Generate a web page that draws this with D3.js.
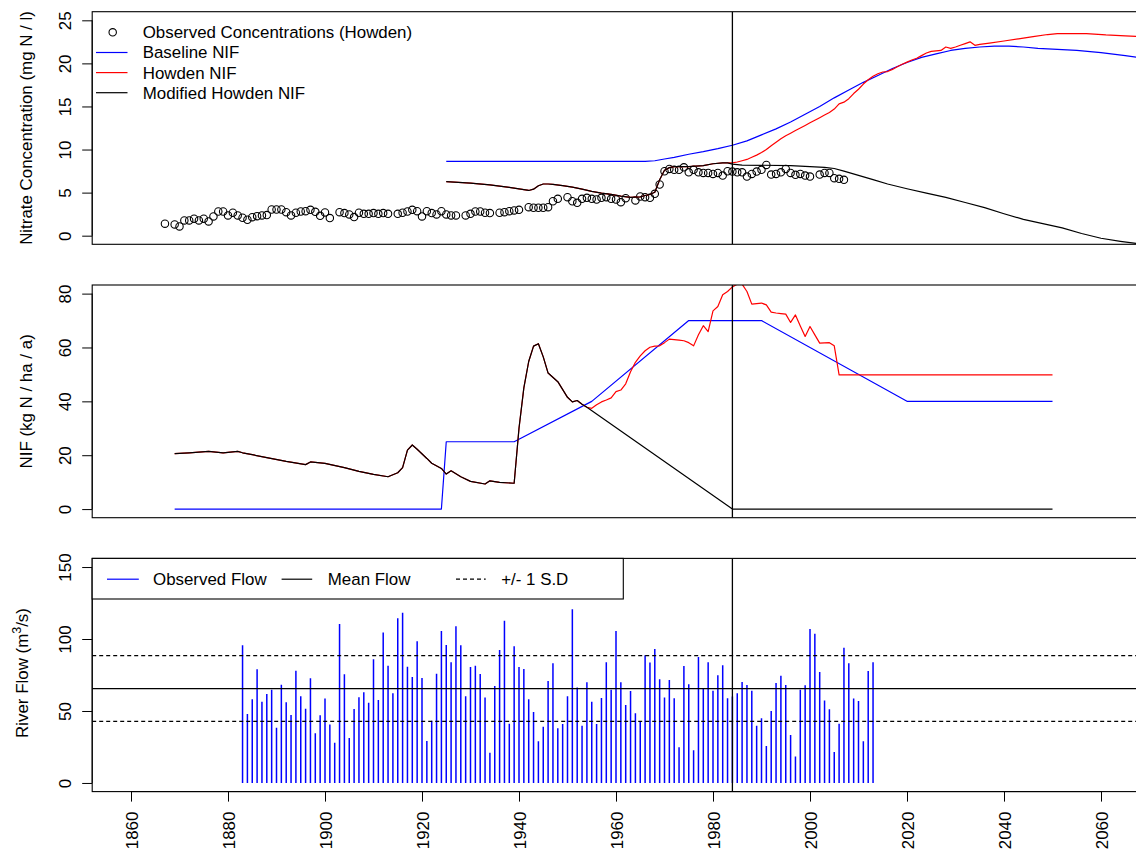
<!DOCTYPE html>
<html><head><meta charset="utf-8">
<script src="https://cdn.jsdelivr.net/npm/d3@7"></script>
<style>
html,body{margin:0;padding:0;background:#fff;}
text{font-family:"Liberation Sans",Arial,Helvetica,sans-serif;font-size:16.9px;fill:#000;}
</style></head>
<body><svg id="c" width="1136" height="850"></svg>
<script>
// ---------- DATA ----------
const xTicks = [1860, 1880, 1900, 1920, 1940, 1960, 1980, 2000, 2020, 2040, 2060];
const concTicks = [0, 5, 10, 15, 20, 25];
const nifTicks = [0, 20, 40, 60, 80];
const flowTicks = [0, 50, 100, 150];
const markerYear = 1984;

// Panel 1: observed nitrate concentrations (Howden)
const obsYears = [1867,1869,1870,1871,1872,1873,1874,1875,1876,1877,1878,1879,1880,1881,1882,1883,1884,1885,1886,1887,1888,1889,1890,1891,1892,1893,1894,1895,1896,1897,1898,1899,1900,1901,1903,1904,1905,1906,1907,1908,1909,1910,1911,1912,1913,1915,1916,1917,1918,1919,1920,1921,1922,1923,1924,1925,1926,1927,1929,1930,1931,1932,1933,1934,1936,1937,1938,1939,1940,1942,1943,1944,1945,1946,1947,1948,1950,1951,1952,1953,1954,1955,1956,1957,1958,1959,1960,1961,1962,1964,1965,1966,1967,1968,1969,1970,1971,1972,1973,1974,1975,1976,1977,1978,1979,1980,1981,1982,1983,1984,1985,1986,1987,1988,1989,1990,1991,1992,1993,1994,1995,1996,1997,1998,1999,2000,2002,2003,2004,2005,2006,2007];
const obsConc = [1.39,1.31,1.08,1.77,1.77,1.97,1.77,1.97,1.66,2.23,2.81,2.81,2.35,2.66,2.35,2.08,1.85,2.15,2.27,2.35,2.39,3.04,3.04,3.04,2.73,2.35,2.66,2.81,2.85,3.0,2.77,2.31,2.7,2.04,2.73,2.62,2.47,2.16,2.66,2.54,2.54,2.62,2.54,2.62,2.54,2.54,2.66,2.81,3.0,2.85,2.23,2.85,2.62,2.47,2.85,2.47,2.35,2.35,2.35,2.54,2.81,2.81,2.66,2.62,2.66,2.73,2.85,2.93,3.0,3.31,3.24,3.24,3.24,3.31,4.0,4.28,4.47,4.0,3.82,4.28,4.4,4.28,4.2,4.4,4.47,4.28,4.2,3.89,4.35,4.09,4.55,4.47,4.4,4.86,5.94,7.48,7.75,7.64,7.64,7.94,7.36,7.64,7.36,7.29,7.29,7.17,7.29,6.98,7.48,7.44,7.36,7.36,6.86,7.17,7.44,7.64,8.21,7.09,7.17,7.36,7.75,7.29,7.06,7.17,6.98,6.86,7.09,7.29,7.29,6.67,6.6,6.48];

// Panel 1: modelled concentrations
const baseConcYears = [1925,1966,1968,1970,1972,1975,1978,1981,1984,1987,1990,1993,1996,1999,2002,2005,2008,2011,2014,2017,2020,2023,2026,2029,2032,2035,2038,2041,2044,2047,2050,2055,2060,2065,2068,2072];
const baseConc = [8.63,8.63,8.7,8.9,9.1,9.45,9.75,10.1,10.5,11.0,11.7,12.4,13.2,14.1,15.0,16.0,16.9,17.8,18.6,19.4,20.1,20.7,21.1,21.5,21.75,21.9,22.0,22.0,21.9,21.75,21.65,21.5,21.25,20.9,20.65,20.4];
// shared part of Howden and Modified Howden concentration curves (1925-1983)
const sharedConcYears = [1925,1930,1934,1938,1941,1942,1943,1944,1945,1946,1947,1949,1951,1953,1955,1957,1959,1961,1963,1965,1966,1967,1968,1969,1970,1971,1972,1975,1978,1980,1982,1983];
const sharedConc = [6.28,6.1,5.9,5.6,5.35,5.25,5.4,5.8,6.0,6.0,5.95,5.8,5.63,5.4,5.15,4.95,4.8,4.6,4.45,4.5,4.66,4.8,5.05,6.5,7.6,7.9,8.02,8.02,8.14,8.35,8.45,8.45];
const howdenConcYears = [1984,1985,1986,1987,1988,1989,1990,1991,1992,1993,1994,1995,1996,1997,1998,1999,2000,2001,2002,2003,2004,2005,2006,2007,2008,2009,2010,2011,2012,2013,2014,2015,2016,2017,2018,2019,2020,2021,2022,2023,2024,2025,2026,2027,2028,2029,2030,2031,2032,2033,2034,2035,2037,2040,2043,2046,2049,2051,2057,2061,2065,2068,2072];
const howdenConc = [8.45,8.55,8.7,8.85,9.1,9.35,9.65,10.0,10.45,10.85,11.25,11.6,11.9,12.2,12.5,12.8,13.1,13.4,13.7,14.0,14.3,14.7,15.3,15.5,15.9,16.5,17.0,17.6,18.1,18.5,18.8,19.0,19.05,19.3,19.6,19.9,20.15,20.4,20.6,20.9,21.2,21.4,21.45,21.5,21.9,21.75,21.9,22.1,22.3,22.5,22.1,22.2,22.35,22.6,22.85,23.1,23.35,23.45,23.45,23.3,23.2,23.1,23.0];
const modConcYears = [1984,1986,1996,2003,2005,2007,2010,2013,2016,2020,2024,2028,2032,2036,2040,2044,2048,2052,2056,2060,2064,2068,2072];
const modConc = [8.3,8.2,8.14,7.94,7.8,7.5,7.0,6.5,6.0,5.45,4.95,4.45,3.85,3.25,2.55,1.9,1.4,0.9,0.25,-0.3,-0.65,-0.95,-1.3];

// Panel 2: nitrogen input function (kg N / ha / a)
const baseNifYears = [1869,1924,1925,1939,1955,1975,1990,2020,2050];
const baseNif = [0,0,25,25,40,70,70,40,40];
const sharedNifYears = [1869,1872,1876,1879,1882,1883,1885,1888,1892,1896,1897,1900,1904,1907,1910,1913,1915,1916,1917,1918,1919,1921,1922,1924,1925,1926,1928,1930,1933,1934,1936,1939,1940,1941,1942,1943,1944,1945,1946,1948,1950,1951,1952,1953,1954];
const sharedNif = [20.6,20.9,21.4,20.9,21.4,20.9,20.2,19.1,17.7,16.5,17.5,17.0,15.4,14.0,12.9,12.0,13.5,15.4,21.9,23.8,22.2,18.8,17.0,15.1,13.0,14.2,12.0,10.3,9.3,10.5,9.9,9.6,30.0,45.0,54.8,60.5,61.4,56.5,50.5,47.3,41.5,39.8,40.3,38.9,37.8];
const howdenNifYears = [1955,1956,1957,1958,1959,1960,1961,1962,1963,1964,1965,1966,1967,1968,1969,1970,1971,1972,1973,1974,1975,1976,1977,1978,1979,1980,1981,1982,1983,1984,1985,1986,1987,1988,1989,1990,1991,1992,1993,1994,1995,1996,1997,1998,1999,2000,2001,2002,2003,2004,2005,2006,2050];
const howdenNif = [37.4,38.7,39.8,40.5,41.3,43.6,44.2,46.5,51.0,54.5,56.9,58.8,60.1,60.5,60.6,61.8,63.1,62.9,62.7,62.5,61.8,60.6,64.7,68.1,65.9,73.6,75.2,79.6,80.8,82.5,83.5,83.5,80.8,76.1,76.3,76.5,75.8,73.1,72.8,72.6,72.4,69.3,72.1,68.0,64.1,67.8,64.7,61.6,61.7,61.8,60.6,49.8,49.8];
const modNifYears = [1984,2050];
const modNif = [0,0];

// Panel 3: river flow (m3/s)
const flowYears = d3.range(1883, 2014);
const flow = [95.6,47.9,58.1,79,56.5,61.8,64.8,38.4,68.3,56,47.2,78,60.2,51.6,72.7,34.5,47,58.6,40.7,28,110.4,75.5,31.3,51.4,59.5,63,55.8,85.9,57.6,104.6,81.5,62.3,114.4,118.3,80.8,73.6,98.4,72.9,29.2,43.3,75.9,105.6,95.8,83.8,108.8,95.6,60.2,80.6,81.5,75.7,59.3,21,67.4,92.4,112.7,41.2,94.9,80.6,79.2,58.1,49.3,29,39.1,70.8,83.1,38,41,60.2,120.6,66.4,39.8,69.9,56.5,41,59,83.8,64.8,105.6,69.9,54.2,63.9,48.4,42.6,88.7,83.6,93.1,72,59.3,71.5,58.8,24.8,81.3,68.5,22.7,87.5,65.3,83.8,64.1,74.8,81.7,58.8,60,62.3,70.1,68,64.1,39.8,44.9,25.7,50,69.4,74.5,68,33.3,18.3,64.8,67.8,106.9,103.7,77.1,57.2,51.2,21.5,41.2,94,83.1,58.6,56.9,29,77.8,83.8];
const meanFlow = 65.6;
const sdFlow = 22.8;

const legendTop = ["Observed Concentrations (Howden)", "Baseline NIF", "Howden NIF", "Modified Howden NIF"];
const legendBottom = ["Observed Flow", "Mean Flow", "+/- 1 S.D"];

// ---------- DRAWING ----------
const svg = d3.select("#c");
const BLUE = "#0000ff", RED = "#ff0000";
const FS = "16.9px";
const x = d3.scaleLinear().domain([1852, 2068]).range([92.2, 1139.8]);
const panels = [
  {top: 11.7, bottom: 244.3, dom: [-1, 26], ticks: concTicks, label: "Nitrate Concentration (mg N / l)"},
  {top: 285.0, bottom: 517.7, dom: [-3.2, 83.2], ticks: nifTicks, label: "NIF (kg N / ha / a)"},
  {top: 558.4, bottom: 791.6, dom: [-6, 156], ticks: flowTicks, label: null}
];
panels.forEach((p, i) => {
  p.y = d3.scaleLinear().domain(p.dom).range([p.bottom, p.top]);
  svg.append("clipPath").attr("id", "clip" + i).append("rect")
    .attr("x", x.range()[0]).attr("y", p.top)
    .attr("width", x.range()[1] - x.range()[0]).attr("height", p.bottom - p.top);
  p.g = svg.append("g").attr("clip-path", `url(#clip${i})`);
});

function yAxis(p) {
  const ax = d3.axisLeft(p.y).tickValues(p.ticks).tickSize(10).tickSizeOuter(0);
  const g = svg.append("g").attr("transform", `translate(${x.range()[0]},0)`).call(ax);
  g.select(".domain").remove();
  g.selectAll(".tick line").attr("stroke", "#000").attr("stroke-width", 1);
  g.selectAll(".tick text").attr("x", null).attr("dy", null)
    .attr("text-anchor", "middle").attr("transform", "translate(-21,0) rotate(-90)")
    .style("font-size", FS).style("font-family", '"Liberation Sans",Arial,sans-serif');
  g.append("line").attr("x1", 0).attr("x2", 0)
    .attr("y1", p.y(d3.min(p.ticks))).attr("y2", p.y(d3.max(p.ticks)))
    .attr("stroke", "#000").attr("stroke-width", 1);
}
function yTitle(p, text) {
  const cy = (p.top + p.bottom) / 2;
  return svg.append("text").attr("transform", `translate(31.5,${cy}) rotate(-90)`)
    .attr("text-anchor", "middle").text(text);
}
function box(p) {
  svg.append("rect").attr("x", x.range()[0]).attr("y", p.top)
    .attr("width", x.range()[1] - x.range()[0]).attr("height", p.bottom - p.top)
    .attr("fill", "none").attr("stroke", "#000").attr("stroke-width", 1.1);
}
function linePath(g, years, vals, y, color, w) {
  const pts = years.map((yr, k) => [yr, vals[k]]);
  g.append("path").datum(pts)
    .attr("d", d3.line().x(d => x(d[0])).y(d => y(d[1])))
    .attr("fill", "none").attr("stroke", color).attr("stroke-width", w || 1.2)
    .attr("stroke-linejoin", "round");
}
function vline(p) {
  p.g.append("line").attr("x1", x(markerYear)).attr("x2", x(markerYear))
    .attr("y1", p.top).attr("y2", p.bottom).attr("stroke", "#000").attr("stroke-width", 1.3);
}

// ----- Panel 1 -----
const p1 = panels[0];
p1.g.selectAll("circle.obs").data(obsYears.map((yr, k) => [yr, obsConc[k]])).enter()
  .append("circle").attr("class", "obs")
  .attr("cx", d => x(d[0])).attr("cy", d => p1.y(d[1])).attr("r", 3.7)
  .attr("fill", "none").attr("stroke", "#000").attr("stroke-width", 1.1);
linePath(p1.g, baseConcYears, baseConc, p1.y, BLUE);
linePath(p1.g, sharedConcYears.concat(howdenConcYears), sharedConc.concat(howdenConc), p1.y, RED);
linePath(p1.g, sharedConcYears.concat(modConcYears), sharedConc.concat(modConc), p1.y, "#000");
vline(p1);
box(p1); yAxis(p1); yTitle(p1, p1.label);

// legend (no box)
const lg = svg.append("g");
const lRows = [32.3, 52.5, 72.6, 92.7];
lg.append("circle").attr("cx", 112.7).attr("cy", lRows[0]).attr("r", 3.7)
  .attr("fill", "none").attr("stroke", "#000").attr("stroke-width", 1.1);
[BLUE, RED, "#000"].forEach((c, k) => {
  lg.append("line").attr("x1", 96).attr("x2", 127.5).attr("y1", lRows[k + 1]).attr("y2", lRows[k + 1])
    .attr("stroke", c).attr("stroke-width", 1.2);
});
legendTop.forEach((t, k) => {
  lg.append("text").attr("x", 142.7).attr("y", lRows[k]).attr("dy", "0.35em").text(t);
});

// ----- Panel 2 -----
const p2 = panels[1];
linePath(p2.g, baseNifYears, baseNif, p2.y, BLUE);
linePath(p2.g, sharedNifYears.concat(howdenNifYears), sharedNif.concat(howdenNif), p2.y, RED);
linePath(p2.g, sharedNifYears.concat(modNifYears), sharedNif.concat(modNif), p2.y, "#000");
vline(p2);
box(p2); yAxis(p2); yTitle(p2, p2.label);

// ----- Panel 3 -----
const p3 = panels[2];
p3.g.selectAll("line.bar").data(flowYears.map((yr, k) => [yr, flow[k]])).enter()
  .append("line").attr("class", "bar")
  .attr("x1", d => x(d[0])).attr("x2", d => x(d[0]))
  .attr("y1", p3.y(0)).attr("y2", d => p3.y(d[1]))
  .attr("stroke", BLUE).attr("stroke-width", 1.5);
function hline(v, dash) {
  p3.g.append("line").attr("x1", x.range()[0]).attr("x2", x.range()[1])
    .attr("y1", p3.y(v)).attr("y2", p3.y(v)).attr("stroke", "#000").attr("stroke-width", 1.2)
    .attr("stroke-dasharray", dash || null);
}
hline(meanFlow);
hline(meanFlow + sdFlow, "4,3");
hline(meanFlow - sdFlow, "4,3");
vline(p3);
box(p3); yAxis(p3);
const t3 = svg.append("text").attr("transform", `translate(28,${(p3.top + p3.bottom) / 2 - 2}) rotate(-90)`)
  .attr("text-anchor", "middle");
t3.append("tspan").text("River Flow (m");
t3.append("tspan").attr("dy", -7).style("font-size", "12.5px").text("3");
t3.append("tspan").attr("dy", 7).text("/s)");

// bottom legend (boxed)
const lb = svg.append("g");
lb.append("rect").attr("x", x.range()[0]).attr("y", p3.top).attr("width", 623.3 - x.range()[0]).attr("height", 599 - p3.top)
  .attr("fill", "#fff").attr("stroke", "#000").attr("stroke-width", 1.1);
const lbY = 579.2;
const lbItems = [
  {x1: 107, x2: 138.8, tx: 153, c: BLUE, dash: null},
  {x1: 281.6, x2: 312.2, tx: 327.8, c: "#000", dash: null},
  {x1: 456, x2: 485.7, tx: 501.2, c: "#000", dash: "4,3"}
];
lbItems.forEach((it, k) => {
  lb.append("line").attr("x1", it.x1).attr("x2", it.x2).attr("y1", lbY).attr("y2", lbY)
    .attr("stroke", it.c).attr("stroke-width", 1.2).attr("stroke-dasharray", it.dash);
  lb.append("text").attr("x", it.tx).attr("y", lbY).attr("dy", "0.35em").text(legendBottom[k]);
});

// x axis (bottom only)
const xa = d3.axisBottom(x).tickValues(xTicks).tickSize(10).tickSizeOuter(0).tickFormat(d3.format("d"));
const gx = svg.append("g").attr("transform", `translate(0,${p3.bottom})`).call(xa);
gx.select(".domain").remove();
gx.selectAll(".tick line").attr("stroke", "#000").attr("stroke-width", 1);
gx.selectAll(".tick text").attr("y", null).attr("dy", null)
  .attr("text-anchor", "end").attr("transform", "translate(6,20) rotate(-90)")
  .style("font-size", FS).style("font-family", '"Liberation Sans",Arial,sans-serif');
gx.append("line").attr("x1", x(xTicks[0])).attr("x2", x(xTicks[xTicks.length - 1]))
  .attr("y1", 0).attr("y2", 0).attr("stroke", "#000").attr("stroke-width", 1);
</script>
</body></html>
